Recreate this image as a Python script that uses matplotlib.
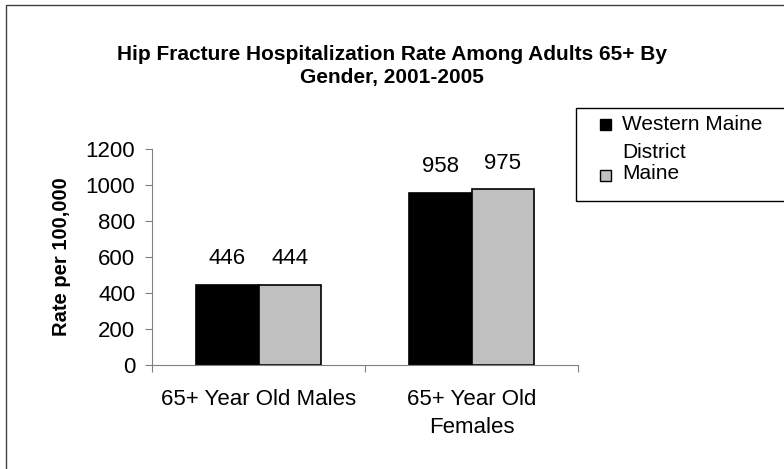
import numpy as np
import matplotlib
matplotlib.use("Agg")
import matplotlib.pyplot as plt
from matplotlib.patches import Rectangle

plt.rcParams['font.family'] = ['Liberation Sans', 'DejaVu Sans']

# data
categories = ["65+ Year Old Males", "65+ Year Old\nFemales"]
western_maine = [446, 958]
maine = [444, 975]
series_names = ["Western Maine\nDistrict", "Maine"]
colors = ["black", "#c0c0c0"]
yticks = [0, 200, 400, 600, 800, 1000, 1200]

W, H = 784, 469
fig = plt.figure(figsize=(W / 100, H / 100), dpi=100)
ax = fig.add_axes([152 / W, 1 - 365 / H, 426 / W, 216 / H])

x = np.arange(len(categories))
w = 0.294
bars = []
for i, vals in enumerate((western_maine, maine)):
    bars.append(ax.bar(x + (i - 0.5) * w, vals, w, color=colors[i], edgecolor="black", linewidth=1.2))

for bc in bars:
    for r in bc:
        ax.annotate(f"{int(r.get_height())}", (r.get_x() + r.get_width() / 2, r.get_height()),
                    xytext=(0, 19), textcoords="offset points", ha="center", va="center", fontsize=16)

ax.set_xlim(-0.5, 1.5)
ax.set_ylim(0, 1200)
ax.set_yticks(yticks)
ax.tick_params(axis="y", labelsize=16, length=5, color="#808080", pad=7)
ax.set_xticks([-0.5, 0.5, 1.5])
ax.set_xticklabels([])
ax.tick_params(axis="x", which="major", length=5, color="#808080", direction="out")
ax.set_xticks(x, minor=True)
ax.set_xticklabels(categories, minor=True, fontsize=16, linespacing=1.45)
ax.tick_params(axis="x", which="minor", length=0, pad=17)
for s in ("top", "right"):
    ax.spines[s].set_visible(False)
for s in ("left", "bottom"):
    ax.spines[s].set_color("#808080")

ax.set_ylabel("Rate per 100,000", fontsize=14.5, fontweight="bold")
ax.yaxis.set_label_coords(-81 / 426, 0.5)

fig.text(0.5, 1 - 66 / H, "Hip Fracture Hospitalization Rate Among Adults 65+ By\nGender, 2001-2005",
         ha="center", va="center", fontsize=15, fontweight="bold", linespacing=1.25)

# outer chart border (only left and top are inside the picture)
fig.add_artist(Rectangle((6 / W, -0.1), 1.2, 1 - 5 / H + 0.1, transform=fig.transFigure,
                         fill=False, edgecolor="#404040", linewidth=1))

# legend box, drawn by hand to copy the cramped wrapping of the original
fig.add_artist(Rectangle((576 / W, 1 - 201 / H), 0.5, 93 / H, transform=fig.transFigure,
                         fill=False, edgecolor="black", linewidth=1))
sq = 11
entries = [(125, [125, 152]), (176, [173])]
for i, (sy, ys) in enumerate(entries):
    fig.add_artist(Rectangle((600 / W, 1 - (sy + sq / 2) / H), sq / W, sq / H, transform=fig.transFigure,
                             facecolor=colors[i], edgecolor="black", linewidth=1))
    for line, ty in zip(series_names[i].split("\n"), ys):
        fig.text(622 / W, 1 - ty / H, line, ha="left", va="center", fontsize=15)

fig.savefig("out.png", dpi=100)
